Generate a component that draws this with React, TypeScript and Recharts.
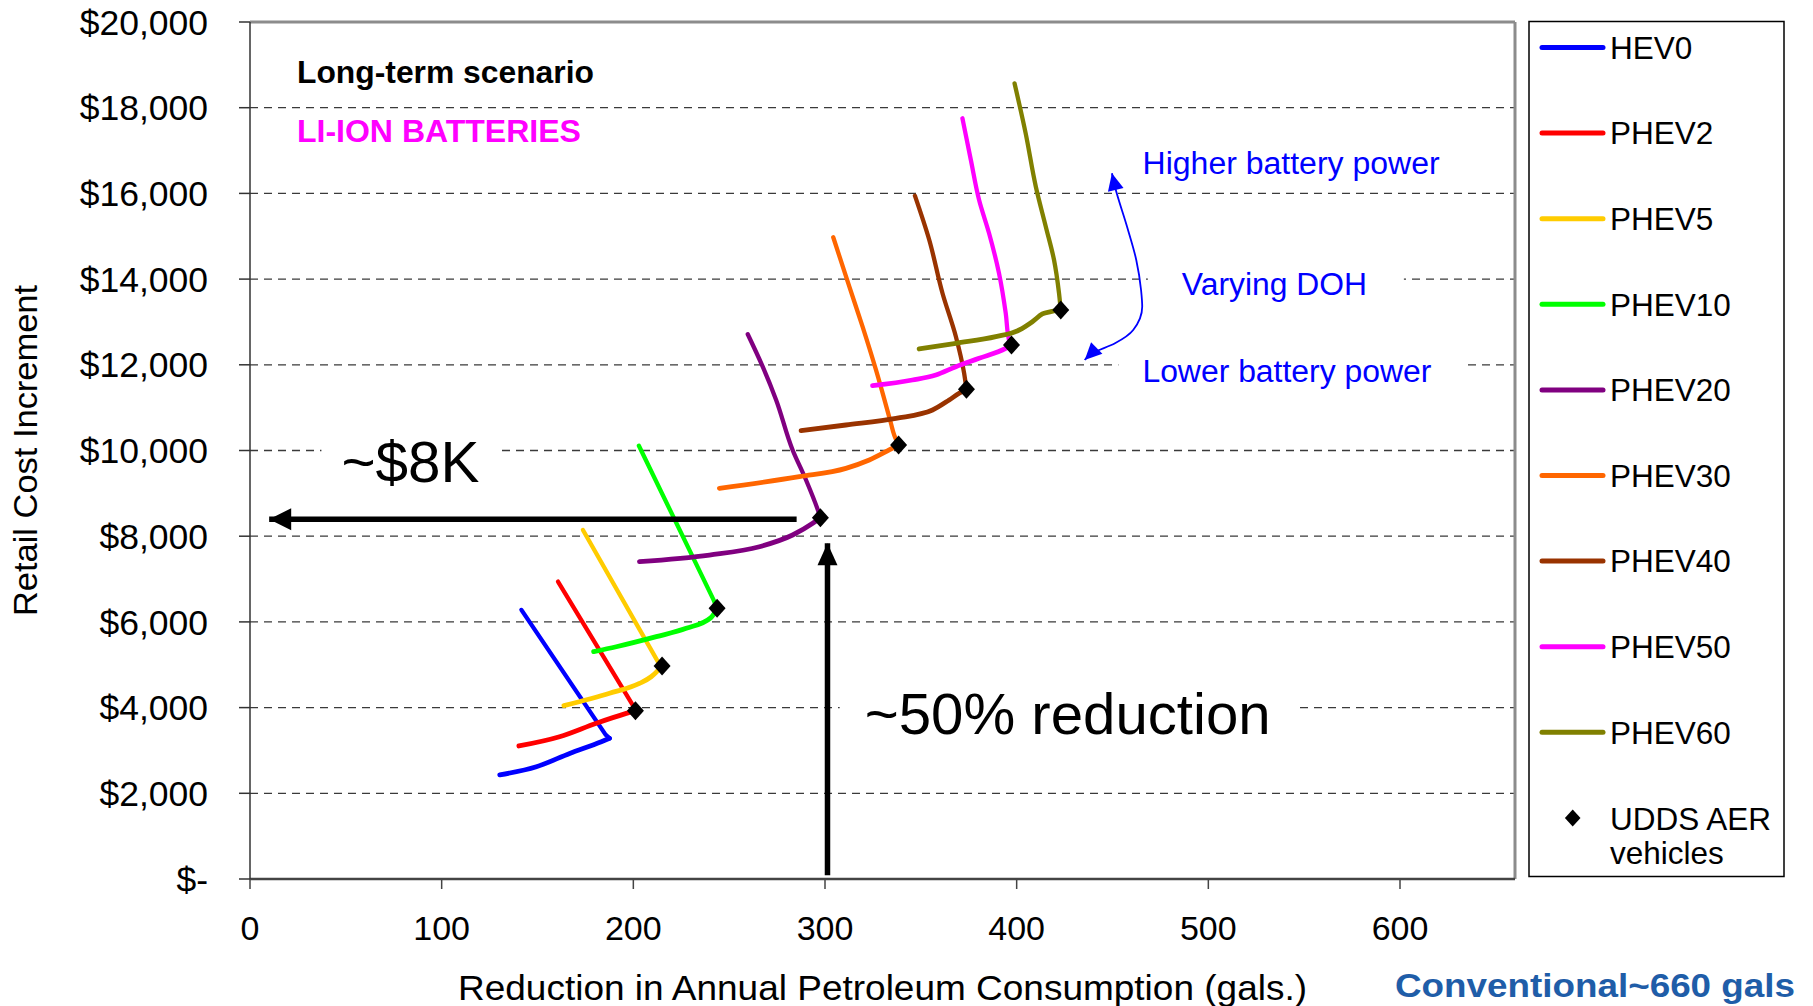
import React from "react";
import {
  ComposedChart,
  Line,
  Scatter,
  XAxis,
  YAxis,
  CartesianGrid,
  ReferenceLine,
  ReferenceDot,
  Label,
} from "recharts";

document.body.style.margin = "0";

const FONT = "Arial, 'Liberation Sans', Helvetica, sans-serif";

// [reduction in annual petroleum use (gal), retail cost increment ($)]
// each curve: low battery power end -> UDDS AER point -> high battery power end
const hev0: [number, number][] = [
  [130.3, 2430], [149.4, 2620], [166.8, 2930], [183.3, 3205], [187.6, 3285], [185.5, 3370], [141.6, 6280],
];
const phev2: [number, number][] = [
  [140.3, 3105], [161.5, 3320], [180.7, 3635], [196.3, 3865], [201.1, 3928], [199.7, 4060], [160.7, 6940],
];
const phev5: [number, number][] = [
  [163.8, 4045], [187.6, 4335], [203.2, 4565], [209.3, 4720], [213.9, 4917], [215.0, 4971], [212.8, 5072],
  [173.7, 8145],
];
const phev10: [number, number][] = [
  [179.3, 5305], [191.1, 5420], [212.0, 5655], [227.6, 5850], [240.5, 6100], [243.7, 6317], [241.8, 6520],
  [202.9, 10112],
];
const phev20: [number, number][] = [
  [203.2, 7405], [239.7, 7560], [265.8, 7755], [283.1, 8028], [293.6, 8300], [297.6, 8432], [296.7, 8557],
  [290.1, 9312], [283.1, 10012], [274.5, 11180], [267.5, 11956], [259.7, 12712],
];
const phev30: [number, number][] = [
  [244.9, 9118], [286.6, 9389], [310.9, 9584], [323.1, 9778], [333.5, 10012], [338.4, 10128], [336.1, 10362],
  [334.4, 10635], [326.6, 11879], [319.6, 12889], [312.7, 13823], [304.3, 14976],
];
const phev40: [number, number][] = [
  [287.5, 10462], [310.9, 10595], [337.0, 10751], [356.1, 10945], [364.8, 11179], [370.0, 11335],
  [373.8, 11428], [372.6, 11802], [368.3, 12656], [361.3, 13669], [354.4, 14912], [346.9, 15947],
];
const phev50: [number, number][] = [
  [324.8, 11512], [345.6, 11645], [357.8, 11762], [368.3, 11956], [380.4, 12152], [394.3, 12385],
  [397.3, 12462], [396.0, 12579], [394.3, 13202], [390.8, 14135], [385.6, 15069], [380.4, 15846],
  [376.1, 16780], [371.7, 17753],
];
const phev60: [number, number][] = [
  [349.1, 12369], [368.3, 12502], [389.1, 12656], [401.3, 12812], [408.2, 13006], [413.4, 13186],
  [417.8, 13240], [423.0, 13279], [422.1, 13669], [419.5, 14446], [415.2, 15223], [410.0, 16157],
  [404.7, 17402], [398.9, 18569],
];

const seriesNames = ["HEV0", "PHEV2", "PHEV5", "PHEV10", "PHEV20", "PHEV30", "PHEV40", "PHEV50", "PHEV60"];
const seriesColors = ["#0000ff", "#ff0000", "#ffcc00", "#00ff00", "#800080", "#ff6600", "#993300", "#ff00ff", "#808000"];
const seriesPoints = [hev0, phev2, phev5, phev10, phev20, phev30, phev40, phev50, phev60];

// UDDS all-electric-range vehicles (black diamonds)
const uddsPoints: [number, number][] = [
  [201.1, 3928], [215.0, 4971], [243.7, 6317], [297.6, 8432], [338.4, 10128], [373.8, 11428], [397.3, 12462],
  [423.0, 13279],
];

const xTicks = [0, 100, 200, 300, 400, 500, 600];
const yTicks = [0, 2000, 4000, 6000, 8000, 10000, 12000, 14000, 16000, 18000, 20000];

// annotation arrows
const costArrow: [number, number][] = [[285.2, 8394], [10, 8394]];
const reductionArrow: [number, number][] = [[301.3, 90], [301.3, 7835]];
const dohArrow: [number, number][] = [
  [449.7, 16469], [451.3, 16156], [457.6, 15223], [462.4, 14446], [464.9, 13746], [465.5, 13356],
  [460.8, 12812], [451.3, 12502], [438.7, 12252], [435.5, 12112],
];

type Note = {
  text: string;
  x: number;
  y: number;
  size: number;
  color: string;
  bold?: boolean;
  len: number;
  box?: [number, number];
};

const notes: Note[] = [
  { text: "Long-term scenario", x: 24.5, y: 18570, size: 31, color: "#000", bold: true, len: 297 },
  { text: "LI-ION BATTERIES", x: 24.5, y: 17207, size: 31, color: "#ff00ff", bold: true, len: 284 },
  { text: "~$8K", x: 47.7, y: 9272, size: 57, color: "#000", len: 138, box: [-20, 157] },
  { text: "~50% reduction", x: 320.7, y: 3384, size: 57, color: "#000", len: 406, box: [-25, 430] },
  { text: "Higher battery power", x: 465.7, y: 16453, size: 31, color: "#0000ff", len: 297 },
  { text: "Varying DOH", x: 486.2, y: 13629, size: 31, color: "#0000ff", len: 185, box: [-34, 222] },
  { text: "Lower battery power", x: 465.6, y: 11606, size: 31, color: "#0000ff", len: 289, box: [-24, 322] },
];

const toData = (pts: [number, number][]) => pts.map(([x, y]) => ({ x, y }));

// split a curve at its UDDS corner (the point furthest right)
const splitAtCorner = (pts: [number, number][]) => {
  let k = 0;
  pts.forEach((p, i) => {
    if (p[0] > pts[k][0]) k = i;
  });
  return { lower: pts.slice(0, k + 1), upper: pts.slice(k) };
};

const headPath = (cx: number, cy: number, deg: number, len: number, half: number) => {
  const a = (deg * Math.PI) / 180;
  const ux = Math.cos(a);
  const uy = Math.sin(a);
  const bx = cx - len * ux;
  const by = cy - len * uy;
  return `M${cx},${cy}L${bx - half * uy},${by + half * ux}L${bx + half * uy},${by - half * ux}Z`;
};

const arrowDot = (ends: Record<number, number>, len: number, half: number, color: string) => (props: any) => {
  const { cx, cy, index } = props;
  const deg = ends[index];
  if (deg === undefined || cx == null || cy == null) return <g key={`a-${index}`} />;
  return <path key={`a-${index}`} d={headPath(cx, cy, deg, len, half)} fill={color} stroke="none" />;
};

const Diamond = (props: any) => {
  const { cx, cy } = props;
  if (cx == null || cy == null) return <g />;
  return <path d={`M${cx},${cy - 9.5}L${cx + 8.5},${cy}L${cx},${cy + 9.5}L${cx - 8.5},${cy}Z`} fill="#000" />;
};

const NoteShape = ({ cx, cy, note }: any) => {
  if (cx == null || cy == null) return <g />;
  return (
    <g>
      {note.box && (
        <rect
          x={cx + note.box[0]}
          y={cy - note.size * 0.85}
          width={note.box[1] - note.box[0]}
          height={note.size * 1.1}
          fill="#fff"
        />
      )}
      <text
        x={cx}
        y={cy}
        fontSize={note.size}
        fontFamily={FONT}
        fontWeight={note.bold ? "bold" : "normal"}
        fill={note.color}
        textLength={note.len}
        lengthAdjust="spacingAndGlyphs"
      >
        {note.text}
      </text>
    </g>
  );
};

const yFmt = (v: number) => (v === 0 ? "$-" : `$${v.toLocaleString("en-US")}`);

const YTitle = (props: any) => {
  const vb = props.viewBox || { x: 0, y: 22, width: 250, height: 857 };
  const x = vb.x + 25;
  const y = vb.y + vb.height / 2;
  return (
    <text
      x={x}
      y={y}
      dy="0.35em"
      transform={`rotate(-90 ${x} ${y})`}
      textAnchor="middle"
      fontSize={34}
      fontFamily={FONT}
      fill="#000"
      textLength={331}
      lengthAdjust="spacingAndGlyphs"
    >
      Retail Cost Increment
    </text>
  );
};

const XTitle = (props: any) => {
  const vb = props.viewBox || { x: 250, y: 879, width: 1265, height: 127 };
  return (
    <text
      x={vb.x + vb.width / 2}
      y={vb.y + 120.5}
      textAnchor="middle"
      fontSize={35}
      fontFamily={FONT}
      fill="#000"
      textLength={849}
      lengthAdjust="spacingAndGlyphs"
    >
      Reduction in Annual Petroleum Consumption (gals.)
    </text>
  );
};

const LegendBox = () => (
  <svg
    width={1813}
    height={1006}
    style={{ position: "absolute", left: 0, top: 0, pointerEvents: "none" }}
  >
    <rect x={1529} y={21.5} width={255} height={855} fill="#fff" stroke="#000" strokeWidth={1.5} />
    {seriesNames.map((name, i) => {
      const y = 47.5 + i * 85.6;
      return (
        <g key={name}>
          <line x1={1542} x2={1603} y1={y} y2={y} stroke={seriesColors[i]} strokeWidth={5} strokeLinecap="round" />
          <text x={1610} y={y + 11.3} fontSize={31.5} fontFamily={FONT} fill="#000">
            {name}
          </text>
        </g>
      );
    })}
    <path d="M1572.7,809.5L1580.5,818L1572.7,826.5L1564.9,818Z" fill="#000" />
    <text x={1610} y={829.5} fontSize={31.5} fontFamily={FONT} fill="#000">
      UDDS AER
    </text>
    <text x={1610} y={864} fontSize={31.5} fontFamily={FONT} fill="#000">
      vehicles
    </text>
    <text
      x={1395}
      y={997}
      fontSize={34}
      fontWeight="bold"
      fontFamily={FONT}
      fill="#1f5da8"
      textLength={400}
      lengthAdjust="spacingAndGlyphs"
    >
      Conventional~660 gals
    </text>
  </svg>
);

export default function App() {
  return (
    <div style={{ position: "relative", width: 1813, height: 1006, background: "#fff" }}>
      <ComposedChart width={1813} height={1006} margin={{ top: 22, right: 298, bottom: 0, left: 0 }}>
        <CartesianGrid vertical={false} stroke="#3a3a3a" strokeWidth={1.3} strokeDasharray="8 6" />
        <XAxis
          type="number"
          dataKey="x"
          domain={[0, 660]}
          ticks={xTicks}
          interval={0}
          height={127}
          tickSize={10}
          tickMargin={27}
          axisLine={{ stroke: "#444", strokeWidth: 2.5 }}
          tickLine={{ stroke: "#444", strokeWidth: 1.5 }}
          tick={{ fontSize: 34, fill: "#000", fontFamily: FONT }}
          allowDataOverflow
        >
          <Label content={XTitle} />
        </XAxis>
        <YAxis
          type="number"
          dataKey="y"
          domain={[0, 20000]}
          ticks={yTicks}
          interval={0}
          width={250}
          tickSize={11}
          tickMargin={31}
          tickFormatter={yFmt}
          axisLine={{ stroke: "#333", strokeWidth: 1.5 }}
          tickLine={{ stroke: "#333", strokeWidth: 1.5 }}
          tick={{ fontSize: 35.5, fill: "#000", fontFamily: FONT }}
          allowDataOverflow
        >
          <Label content={YTitle} />
        </YAxis>
        <ReferenceLine y={20000} stroke="#8c8c8c" strokeWidth={3} />
        <ReferenceLine x={660} stroke="#8c8c8c" strokeWidth={3} />

        {notes.map((n) => (
          <ReferenceDot
            key={n.text}
            x={n.x}
            y={n.y}
            r={0}
            shape={(p: any) => <NoteShape {...p} note={n} />}
          />
        ))}

        {seriesNames.map((name, i) => {
          const { lower, upper } = splitAtCorner(seriesPoints[i]);
          return [
            <Line
              key={`${name}-low`}
              name={name}
              data={toData(lower)}
              dataKey="y"
              type="monotoneX"
              stroke={seriesColors[i]}
              strokeWidth={4.8}
              strokeLinejoin="round"
              strokeLinecap="round"
              dot={false}
              activeDot={false}
              isAnimationActive={false}
            />,
            <Line
              key={`${name}-up`}
              name={name}
              data={toData(upper)}
              dataKey="y"
              type={upper.length > 4 ? "monotoneY" : "linear"}
              stroke={seriesColors[i]}
              strokeWidth={4.3}
              strokeLinejoin="round"
              strokeLinecap="round"
              dot={false}
              activeDot={false}
              isAnimationActive={false}
            />,
          ];
        })}

        <Scatter
          name="UDDS AER vehicles"
          data={toData(uddsPoints)}
          shape={Diamond}
          isAnimationActive={false}
        />

        <Line
          data={toData(dohArrow)}
          dataKey="y"
          type="monotoneY"
          stroke="#0000ff"
          strokeWidth={1.8}
          dot={arrowDot({ 0: -103, [dohArrow.length - 1]: 135 }, 17, 8, "#0000ff")}
          activeDot={false}
          isAnimationActive={false}
        />
        <Line
          data={toData(costArrow)}
          dataKey="y"
          type="linear"
          stroke="#000"
          strokeWidth={5.5}
          dot={arrowDot({ 1: 180 }, 22, 11, "#000")}
          activeDot={false}
          isAnimationActive={false}
        />
        <Line
          data={toData(reductionArrow)}
          dataKey="y"
          type="linear"
          stroke="#000"
          strokeWidth={5.5}
          dot={arrowDot({ 1: -90 }, 22, 10, "#000")}
          activeDot={false}
          isAnimationActive={false}
        />
      </ComposedChart>
      <LegendBox />
    </div>
  );
}
